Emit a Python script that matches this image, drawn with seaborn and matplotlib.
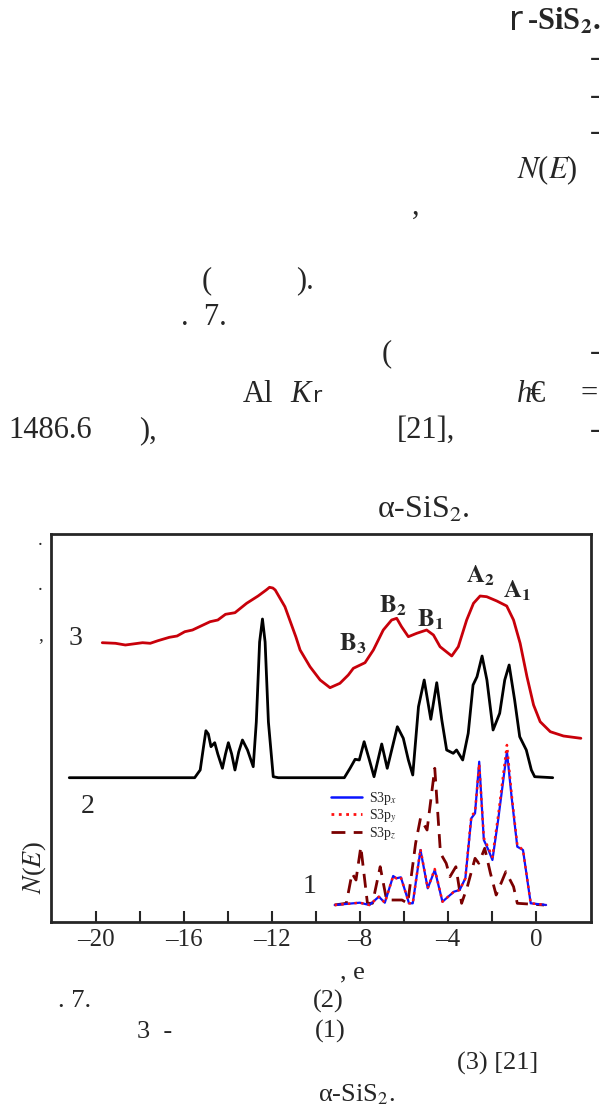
import numpy as np
import pandas as pd
import seaborn as sns
import matplotlib.pyplot as plt
from matplotlib.lines import Line2D

# curve 3: XPS valence band (red)
e3 = [-19.7, -19.1, -18.65, -17.87, -17.52, -17.17, -16.65, -16.3, -15.95, -15.6, -14.8, -14.45,
      -14.1, -13.67, -13.14, -12.62, -12.25, -12.1, -11.95, -11.84, -11.4, -10.9, -10.71, -10.26,
      -9.8, -9.35, -8.9, -8.52, -8.29, -7.76, -7.38, -6.93, -6.55, -6.32, -6.1, -5.79, -5.41,
      -4.96, -4.65, -4.35, -3.82, -3.52, -3.14, -2.83, -2.53, -2.23, -1.77, -1.32, -1.01, -0.71,
      -0.4, -0.1, 0.2, 0.66, 1.26, 2.05]
n3 = [279.3, 278.7, 277, 279.3, 278.7, 281.3, 284.7, 286, 290.3, 292, 300.3, 302,
      307.7, 309.3, 318.7, 326, 332, 334.7, 334, 332, 315.3, 285, 272, 255.3,
      242, 234.3, 238.7, 247, 253.7, 259.3, 272, 292, 302, 303.7, 295.3, 285.3, 288.7,
      292, 287, 275.3, 266, 275.3, 302, 318.7, 326, 325.3, 321, 316, 302, 278.7,
      245.3, 217, 200.3, 190.3, 186, 183.7]

# curve 2: total DOS (black)
e2 = [-21.2, -15.5, -15.25, -15.1, -14.99, -14.88, -14.76, -14.59, -14.45, -14.24, -14.1, -13.97,
      -13.82, -13.67, -13.5, -13.33, -13.1, -12.84, -12.7, -12.55, -12.42, -12.3, -12.15, -11.93,
      -11.7, -8.7, -8.44, -8.21, -8.02, -7.8, -7.56, -7.35, -7.0, -6.75, -6.29, -6.02, -5.79,
      -5.59, -5.33, -5.07, -4.77, -4.5, -4.27, -4.05, -3.75, -3.6, -3.32, -3.07, -2.85, -2.67,
      -2.44, -2.22, -1.94, -1.64, -1.41, -1.21, -0.96, -0.73, -0.43, -0.2, -0.05, 0.77]
n2 = [144.3, 144.3, 152, 175, 191.3, 188, 175.3, 179.3, 168, 153.7, 168, 179.3,
      168, 152, 170, 182, 172, 155.3, 200, 280, 303, 280, 200, 145.3,
      144.3, 144.3, 153.7, 162.7, 162, 180.3, 162, 145.3, 178, 153.7, 195.3, 183.7, 162,
      147, 215.3, 242, 202.7, 239.3, 202, 172, 168.7, 172, 162, 188.7, 237, 245.3,
      266, 242, 192, 208.7, 242, 257, 222, 185.3, 172, 152, 145.3, 144.3]

# curve 1: S3p partial DOS
e1 = [-9.14, -8.0, -7.56, -7.13, -6.86, -6.48, -6.34, -6.13, -5.76, -5.59, -5.24, -4.91, -4.59,
      -4.24, -3.72, -3.46, -3.2, -2.93, -2.76, -2.57, -2.36, -2.15, -1.97, -1.71, -1.31, -1.1,
      -0.84, -0.58, -0.23, 0.47]
px_ = [17, 19.3, 17, 25.3, 19.3, 46, 43.7, 44.7, 18.7, 18.7, 72, 33.7, 52,
       20.3, 30.3, 32, 43.7, 103.7, 108.7, 160.3, 82, 72, 62, 102, 170.3, 125.3,
       75.3, 72, 18.7, 17]
py_ = [17, 19.3, 17, 25.3, 19.3, 46, 43.7, 44.7, 18.7, 18.7, 73, 33.7, 53,
       20.3, 30.3, 32, 43.7, 106, 110, 158, 84, 74, 65, 106, 177, 128,
       77, 72, 18.7, 17]
ez = [-9.14, -8.61, -8.35, -8.17, -7.95, -7.65, -7.42, -7.07, -6.78, -6.52, -6.08, -5.82, -5.46,
      -5.24, -4.94, -4.59, -4.33, -4.07, -3.9, -3.63, -3.37, -3.11, -2.76, -2.59, -2.32, -2.06,
      -1.8, -1.36, -1.01, -0.84, 0.38]
pz_ = [17, 18.7, 48.7, 42, 75.3, 18.7, 18.7, 55.3, 22, 22, 22, 18.7, 78.7,
       103.7, 92, 153.7, 68.7, 58.7, 45.3, 55.3, 18.7, 35.3, 63.7, 58.7, 73.7, 48.7,
       27, 50.3, 35.3, 18.7, 17]

xticks = list(range(-20, 1, 2))
xlabels = [('\u2013' + str(-t) if t < 0 else '0') if t % 4 == 0 else '' for t in xticks]

sns.set_style("ticks")
plt.rcParams['font.family'] = ['Liberation Serif', 'DejaVu Sans']
plt.rcParams['mathtext.fontset'] = 'stix'

W, H = 603, 1113
fig = plt.figure(figsize=(W / 100, H / 100), dpi=100)
ax = fig.add_axes([51 / W, (H - 922) / H, (591 - 51) / W, (922 - 534) / H])

sns.lineplot(x=e3, y=n3, ax=ax, color='#c8000a', linewidth=2.0, estimator=None, sort=False)
sns.lineplot(x=e2, y=n2, ax=ax, color='black', linewidth=2.0, estimator=None, sort=False)
sns.lineplot(x=ez, y=pz_, ax=ax, color='#7a0000', linewidth=2.0, estimator=None, sort=False)
ax.lines[-1].set_dashes([5, 3])
sns.lineplot(x=e1, y=px_, ax=ax, color='#0a14ff', linewidth=1.6, estimator=None, sort=False)
sns.lineplot(x=e1, y=py_, ax=ax, color='#ff1010', linewidth=1.8, estimator=None, sort=False)
ax.lines[-1].set_linestyle(':')
for ln in ax.lines:
    ln.set_solid_joinstyle('round')
    ln.set_dash_joinstyle('round')

ax.set_xlim(-22.03, 2.51)
ax.set_ylim(0, 388)
ax.set_yticks([])
ax.set_xticks(xticks)
ax.set_xticklabels(xlabels, fontsize=18)
ax.tick_params(axis='x', direction='in', length=8, width=1.5, pad=5)
for s in ax.spines.values():
    s.set_linewidth(2.0)

handles = [Line2D([], [], color='#0a14ff', lw=1.8),
           Line2D([], [], color='#ff1010', lw=2.0, ls=':'),
           Line2D([], [], color='#7a0000', lw=2.0, dashes=[5, 3])]
ax.legend(handles, ['S3p$_x$', 'S3p$_y$', 'S3p$_z$'], loc='upper left', bbox_to_anchor=(0.519, 0.34),
          frameon=False, fontsize=10, labelspacing=0, handlelength=2.2, handletextpad=0.5,
          borderpad=0, borderaxespad=0)


def t(x, y, s, **kw):
    kw.setdefault('fontsize', 22)
    kw.setdefault('va', 'baseline')
    fig.text(x / W, 1 - y / H, s, **kw)


# page text above the chart
t(509, 30, 'r', family='DejaVu Sans', fontsize=24)
t(600, 30, '-SiS$_\\mathbf{2}$.', ha='right', fontweight='bold')
for yy in (66, 104, 140, 360, 438):
    t(600, yy, '-', ha='right')
t(517, 178, '$\\it{N}$($\\it{E}$)')
t(412, 214, ',')
t(202, 288, '(')
t(296, 288, ').')
t(181, 325, '.  7.')
t(382, 361, '(')
t(243, 402, 'Al')
t(290, 402, 'K', style='italic')
t(313, 402, 'r', family='DejaVu Sans', fontsize=16)
t(517, 402, 'h', style='italic')
t(530, 402, '\u20ac')
t(580, 402, '=')
t(8, 438, '1486.6')
t(139, 438, '),')
t(397, 438, '[21],')
t(377, 518, '\u03b1-SiS$_2$.', fontsize=23)

# marks left of the frame
t(38, 545, '.', fontsize=14)
t(38, 590, '.', fontsize=14)
t(38, 640, ',', fontsize=14)

# curve numbers and peak labels
t(69, 645, '3', fontsize=20)
t(81, 813, '2', fontsize=20)
t(303, 893, '1', fontsize=20)
t(339, 650, '$\\mathbf{B_3}$', fontsize=18)
t(379, 612, '$\\mathbf{B_2}$', fontsize=18)
t(417, 626, '$\\mathbf{B_1}$', fontsize=18)
t(466, 582, '$\\mathbf{A_2}$', fontsize=18)
t(503, 597, '$\\mathbf{A_1}$', fontsize=18)
t(35, 868, '$\\it{N}$($\\it{E}$)', fontsize=19, rotation=90, ha='center', va='center')

# caption below
t(340, 978, ', e', fontsize=19)
t(58, 1007, '. 7.', fontsize=19)
t(313, 1008, '(2)', fontsize=19)
t(137, 1038, '3  -', fontsize=19)
t(315, 1038, '(1)', fontsize=19)
t(457, 1070, '(3) [21]', fontsize=19)
t(318, 1101, '\u03b1-SiS$_2$.', fontsize=19)

fig.savefig('out.png', dpi=100)
